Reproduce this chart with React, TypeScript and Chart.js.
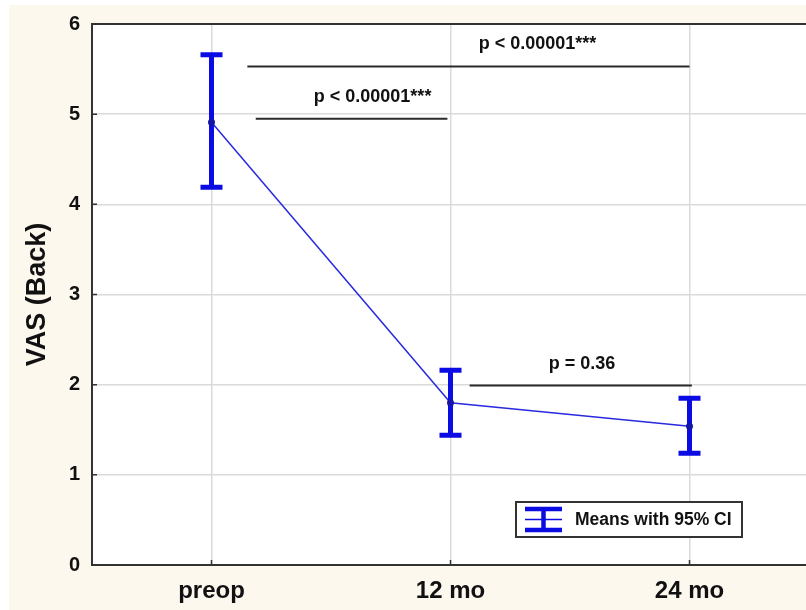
import React, { useEffect, useRef } from "react";
import { Chart, registerables } from "chart.js";

Chart.register(...registerables);

const categories = ["preop", "12 mo", "24 mo"];
const means = [4.91, 1.8, 1.54];
const upperCI = [5.66, 2.16, 1.85];
const lowerCI = [4.19, 1.44, 1.24];
const yTicks = [0, 1, 2, 3, 4, 5, 6];

// significance brackets (x in category units, y in VAS units)
const bracketStart = [0.15, 0.185, 1.08];
const bracketEnd = [2.0, 0.987, 2.01];
const bracketY = [5.53, 4.95, 1.99];
const bracketLabels = ["p < 0.00001***", "p < 0.00001***", "p = 0.36"];
const bracketLabelX = [1.364, 0.674, 1.55];

const legendLabel = "Means with 95% CI";

const FONT = "'Liberation Sans', Arial, sans-serif";
const BLUE = "#0b0be3";
const DARK = "#333333";

export default function App() {
  const ref = useRef<HTMLCanvasElement | null>(null);

  useEffect(() => {
    if (!ref.current) return;

    const decor = {
      id: "decor",
      beforeDraw(chart: any) {
        const { ctx, width, height, chartArea } = chart;
        ctx.save();
        ctx.fillStyle = "#ffffff";
        ctx.fillRect(0, 0, width, height);
        ctx.fillStyle = "#fcf8ee";
        ctx.fillRect(9, 5, width - 9, height - 5);
        ctx.fillStyle = "#ffffff";
        ctx.fillRect(chartArea.left, chartArea.top, chartArea.right - chartArea.left, chartArea.bottom - chartArea.top);
        ctx.restore();
      },
      afterDatasetsDraw(chart: any) {
        const { ctx } = chart;
        const xs = chart.scales.x;
        const ys = chart.scales.y;
        ctx.save();
        // error bars
        ctx.strokeStyle = BLUE;
        ctx.lineWidth = 5;
        ctx.lineCap = "butt";
        for (let i = 0; i < categories.length; i++) {
          const x = xs.getPixelForValue(i);
          const yt = ys.getPixelForValue(upperCI[i]);
          const yb = ys.getPixelForValue(lowerCI[i]);
          ctx.beginPath();
          ctx.moveTo(x, yt);
          ctx.lineTo(x, yb);
          ctx.moveTo(x - 11, yt);
          ctx.lineTo(x + 11, yt);
          ctx.moveTo(x - 11, yb);
          ctx.lineTo(x + 11, yb);
          ctx.stroke();
          ctx.fillStyle = "#1515a8";
          ctx.beginPath();
          ctx.arc(x, ys.getPixelForValue(means[i]), 3.5, 0, Math.PI * 2);
          ctx.fill();
        }
        // brackets
        ctx.strokeStyle = "#2a2a2a";
        ctx.lineWidth = 2;
        ctx.fillStyle = "#111111";
        ctx.font = `bold 18px ${FONT}`;
        ctx.textAlign = "center";
        ctx.textBaseline = "middle";
        for (let i = 0; i < bracketY.length; i++) {
          const y = ys.getPixelForValue(bracketY[i]);
          ctx.beginPath();
          ctx.moveTo(xs.getPixelForValue(bracketStart[i]), y);
          ctx.lineTo(xs.getPixelForValue(bracketEnd[i]), y);
          ctx.stroke();
          ctx.fillText(bracketLabels[i], xs.getPixelForValue(bracketLabelX[i]), y - 22);
        }
        ctx.restore();
      },
      afterDraw(chart: any) {
        const { ctx, chartArea } = chart;
        const xs = chart.scales.x;
        const ys = chart.scales.y;
        ctx.save();
        ctx.strokeStyle = DARK;
        ctx.lineWidth = 2;
        // top border
        ctx.beginPath();
        ctx.moveTo(chartArea.left - 1, chartArea.top);
        ctx.lineTo(chartArea.right + 2, chartArea.top);
        ctx.stroke();
        // inward ticks
        ctx.lineWidth = 1.5;
        ctx.beginPath();
        for (const v of yTicks) {
          const y = ys.getPixelForValue(v);
          ctx.moveTo(chartArea.left, y);
          ctx.lineTo(chartArea.left + 5, y);
        }
        for (let i = 0; i < categories.length; i++) {
          const x = xs.getPixelForValue(i);
          ctx.moveTo(x, chartArea.bottom);
          ctx.lineTo(x, chartArea.bottom - 5);
        }
        ctx.stroke();

        // legend
        const bx = chartArea.right - 293;
        const by = chartArea.bottom - 63;
        const bw = 226;
        const bh = 35;
        ctx.fillStyle = "#ffffff";
        ctx.fillRect(bx, by, bw, bh);
        ctx.strokeStyle = DARK;
        ctx.lineWidth = 2;
        ctx.strokeRect(bx, by, bw, bh);
        ctx.strokeStyle = BLUE;
        ctx.lineWidth = 4.5;
        ctx.beginPath();
        ctx.moveTo(bx + 9, by + 7);
        ctx.lineTo(bx + 46, by + 7);
        ctx.moveTo(bx + 9, by + 28);
        ctx.lineTo(bx + 46, by + 28);
        ctx.moveTo(bx + 27.5, by + 7);
        ctx.lineTo(bx + 27.5, by + 28);
        ctx.stroke();
        ctx.lineWidth = 1.5;
        ctx.beginPath();
        ctx.moveTo(bx + 9, by + 17.5);
        ctx.lineTo(bx + 46, by + 17.5);
        ctx.stroke();
        ctx.fillStyle = "#111111";
        ctx.font = `bold 17.5px ${FONT}`;
        ctx.textAlign = "left";
        ctx.textBaseline = "middle";
        ctx.fillText(legendLabel, bx + 59, by + 18);
        ctx.restore();
      },
    };

    const chart = new Chart(ref.current, {
      type: "line",
      data: {
        labels: categories,
        datasets: [
          {
            label: legendLabel,
            data: means,
            borderColor: "#2a2ae0",
            borderWidth: 1.5,
            pointRadius: 0,
            tension: 0,
            clip: false as any,
          },
        ],
      },
      options: {
        responsive: false,
        animation: false,
        layout: { padding: { top: 24, right: 7, left: 0, bottom: 0 } },
        plugins: {
          legend: { display: false },
          tooltip: { enabled: false },
        },
        scales: {
          x: {
            type: "category",
            offset: true,
            afterFit(scale: any) {
              scale.height = 45;
            },
            grid: {
              offset: false,
              color: "#dadada",
              lineWidth: 1.5,
              drawTicks: false,
            },
            border: { color: DARK, width: 2 },
            ticks: {
              padding: 12,
              color: "#111111",
              font: { family: FONT, size: 24, weight: "bold" },
            },
          },
          y: {
            min: 0,
            max: 6,
            afterFit(scale: any) {
              scale.width = 92;
            },
            afterBuildTicks(scale: any) {
              scale.ticks = yTicks.map((v) => ({ value: v }));
            },
            grid: {
              color: "#dadada",
              lineWidth: 1.5,
              drawTicks: false,
            },
            border: { color: DARK, width: 2 },
            ticks: {
              padding: 12,
              color: "#111111",
              font: { family: FONT, size: 20, weight: "bold" },
            },
            title: {
              display: true,
              text: "VAS (Back)",
              color: "#111111",
              padding: { top: 21, bottom: 0 },
              font: { family: FONT, size: 27, weight: "bold" },
            },
          },
        },
      },
      plugins: [decor],
    });

    return () => chart.destroy();
  }, []);

  return (
    <div
      style={{
        position: "absolute",
        left: 0,
        top: 0,
        width: 806,
        height: 610,
        overflow: "hidden",
      }}
    >
      <canvas ref={ref} width={816} height={610} style={{ width: 816, height: 610, display: "block" }} />
    </div>
  );
}
